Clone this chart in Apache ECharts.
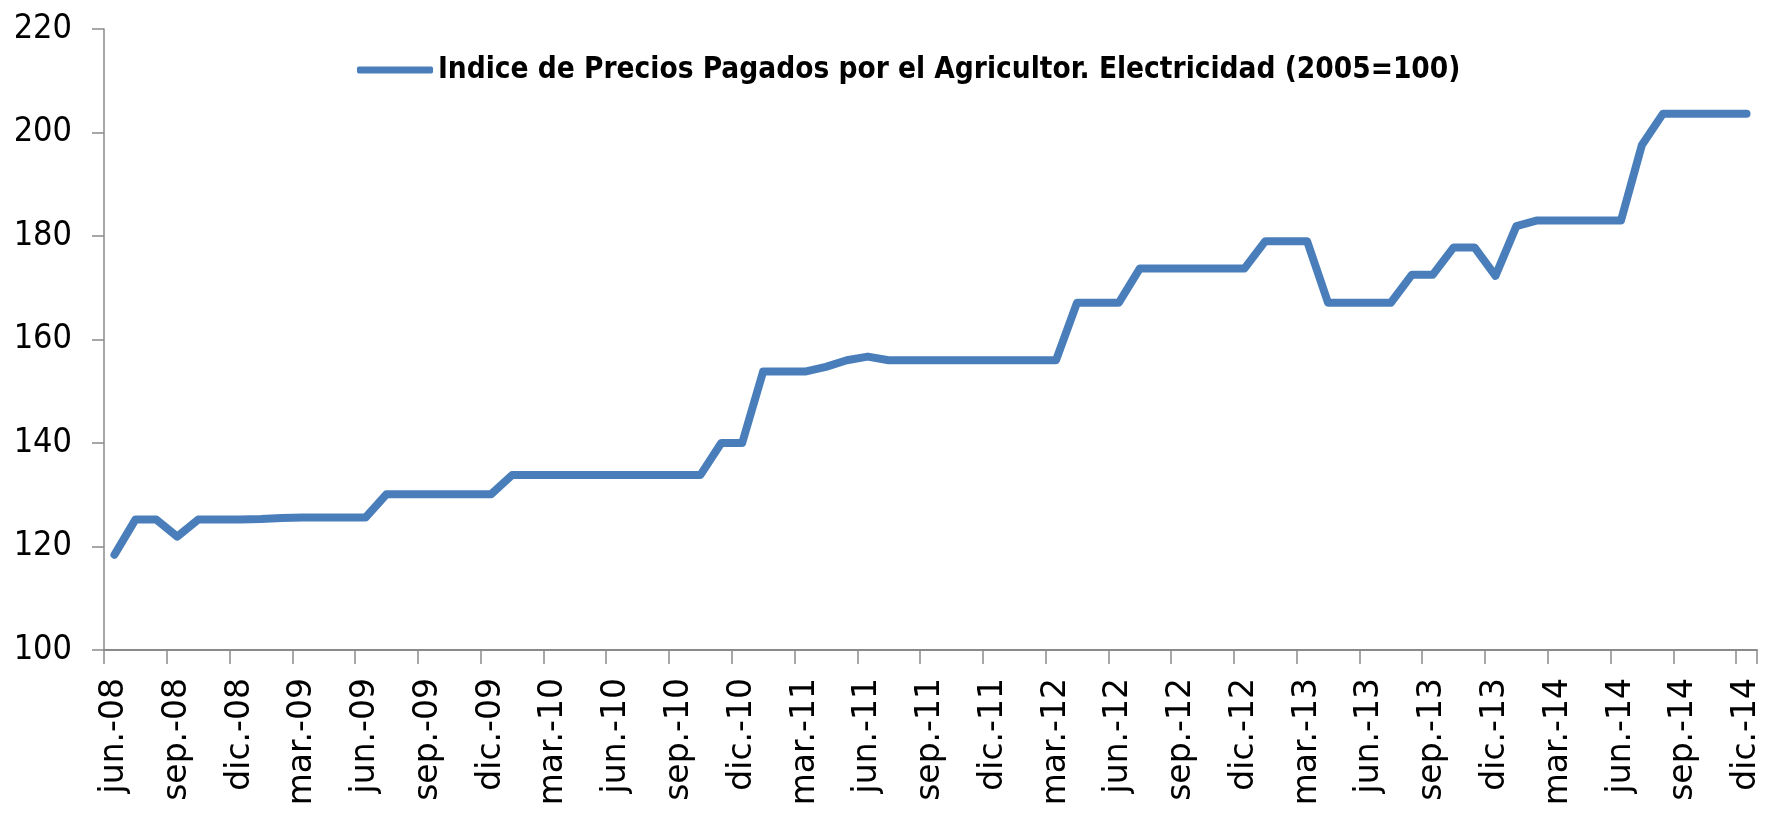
<!DOCTYPE html>
<html>
<head>
<meta charset="utf-8">
<script src="https://cdn.jsdelivr.net/npm/echarts@6/dist/echarts.min.js"></script>
<style>
html,body{margin:0;padding:0;background:#fff;}
#chart{width:1766px;height:820px;}
</style>
</head>
<body>
<div id="chart"></div>
<script>
const seriesName = 'Indice de Precios Pagados por el Agricultor. Electricidad (2005=100)';
const monthAbbr = ['ene.','feb.','mar.','abr.','may.','jun.','jul.','ago.','sep.','oct.','nov.','dic.'];
const startYear = 2008, startMonth = 5; // jun.-08
const values = [
  118.4, 125.2, 125.2, 121.9, 125.2, 125.2, 125.2,
  125.3, 125.5, 125.6, 125.6, 125.6, 125.6, 130.1, 130.1, 130.1, 130.1, 130.1, 130.1,
  133.8, 133.8, 133.8, 133.8, 133.8, 133.8, 133.8, 133.8, 133.8, 133.8, 140.0, 140.0,
  153.8, 153.8, 153.8, 154.7, 156.0, 156.7, 156.0, 156.0, 156.0, 156.0, 156.0, 156.0,
  156.0, 156.0, 156.0, 167.1, 167.1, 167.1, 173.7, 173.7, 173.7, 173.7, 173.7, 173.7,
  179.0, 179.0, 179.0, 167.1, 167.1, 167.1, 167.1, 172.5, 172.5, 177.8, 177.8, 172.3,
  181.9, 183.0, 183.0, 183.0, 183.0, 183.0, 197.6, 203.6, 203.6, 203.6, 203.6, 203.6
];
const categories = values.map((v, i) => {
  const m = (startMonth + i) % 12;
  const y = startYear + Math.floor((startMonth + i) / 12);
  return monthAbbr[m] + '-' + String(y % 100).padStart(2, '0');
});
const yMin = 100, yMax = 220, yStep = 20;

const condensed = '"Liberation Sans Narrow", "Arial Narrow", "DejaVu Sans Condensed", "Liberation Sans", sans-serif';
const chart = echarts.init(document.getElementById('chart'), null, {renderer: 'canvas'});
chart.setOption({
  animation: false,
  backgroundColor: '#ffffff',
  grid: {left: 104, right: 9, top: 29, bottom: 170, containLabel: false},
  legend: {
    data: [seriesName],
    left: 357,
    top: 55,
    padding: 0,
    icon: 'roundRect',
    itemWidth: 76,
    itemHeight: 7,
    textStyle: {
      fontFamily: condensed,
      fontWeight: 'bold',
      fontSize: 29.5,
      color: '#000'
    }
  },
  xAxis: {
    type: 'category',
    data: categories,
    boundaryGap: true,
    axisLine: {lineStyle: {color: '#8a8a8a', width: 2}},
    axisTick: {show: true, interval: 2, length: 14, lineStyle: {color: '#8a8a8a', width: 1.5}},
    axisLabel: {
      interval: 2,
      rotate: 90,
      margin: 28,
      fontFamily: '"DejaVu Sans", sans-serif',
      fontSize: 33,
      color: '#000'
    },
    splitLine: {show: false}
  },
  yAxis: {
    type: 'value',
    min: yMin,
    max: yMax,
    interval: yStep,
    axisLine: {show: true, lineStyle: {color: '#8a8a8a', width: 1.5}},
    axisTick: {show: true, length: 12, inside: false, lineStyle: {color: '#8a8a8a', width: 1.5}},
    axisLabel: {
      margin: 32,
      fontFamily: condensed,
      fontSize: 34,
      color: '#000'
    },
    splitLine: {show: false}
  },
  series: [{
    name: seriesName,
    type: 'line',
    data: values,
    symbol: 'none',
    color: '#4A7EBB',
    lineStyle: {color: '#4A7EBB', width: 8, join: 'round', cap: 'round'}
  }]
});
</script>
</body>
</html>
